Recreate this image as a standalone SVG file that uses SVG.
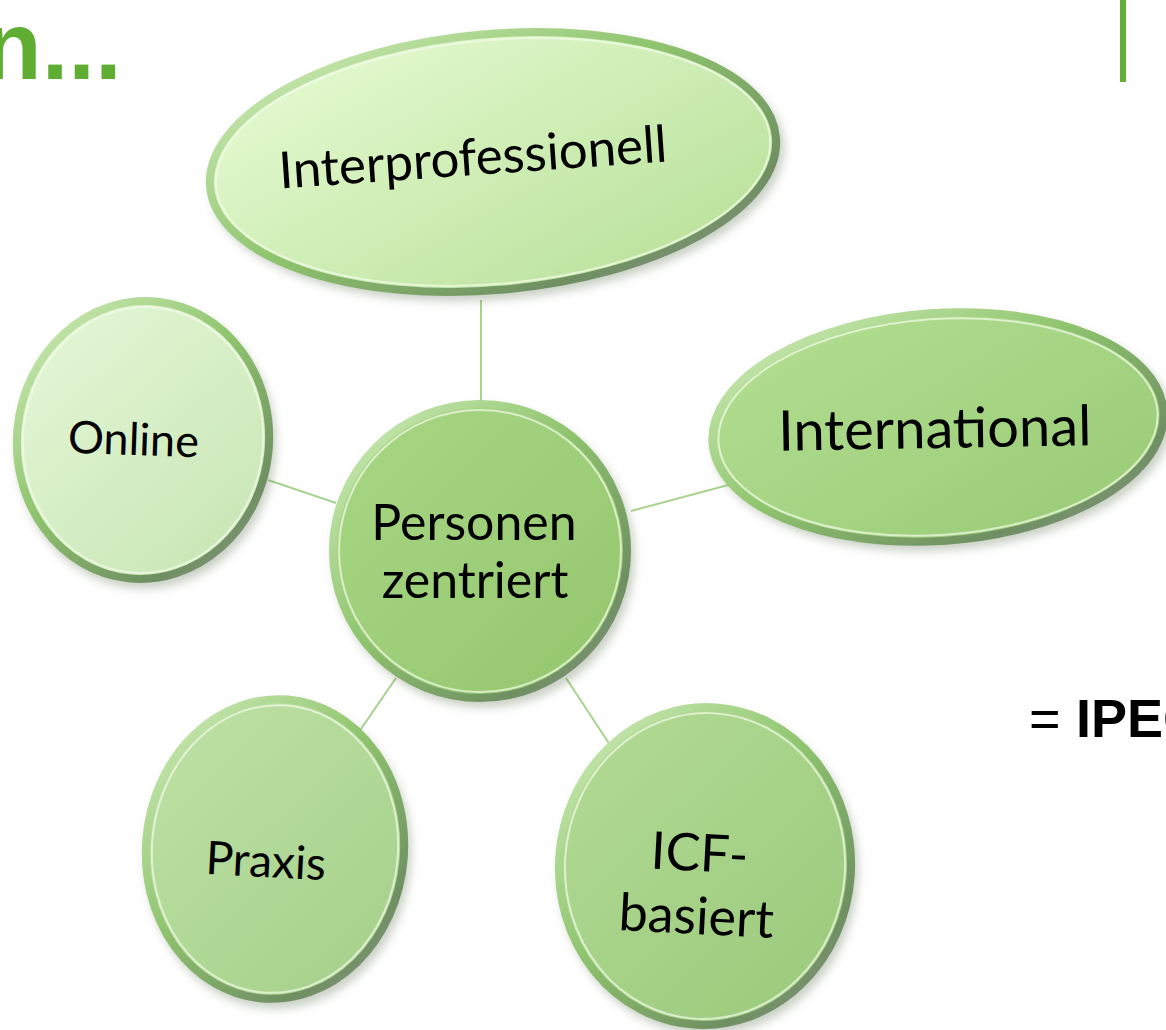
<svg xmlns="http://www.w3.org/2000/svg" width="1166" height="1030" viewBox="0 0 1166 1030">
<style>
.lbl{font-family:Lato,"Open Sans","Liberation Sans",sans-serif;fill:#000;text-anchor:middle}
.con{stroke:#a9d28e;stroke-width:2;fill:none}
.rim{fill:none;stroke:url(#rim);stroke-width:8}
.hl{fill:none;stroke:#f4fbe9;stroke-opacity:0.7;stroke-width:2}
.sh{fill:#556b4a;fill-opacity:0.3;filter:url(#blur)}
</style>
<defs>
<filter id="blur" x="-20%" y="-20%" width="140%" height="140%"><feGaussianBlur stdDeviation="4"/></filter>
<linearGradient id="rim" x1="0" y1="0" x2="1" y2="1">
<stop offset="0" stop-color="#d3efbd"/>
<stop offset="0.45" stop-color="#8fc46e"/>
<stop offset="0.8" stop-color="#6f8f62"/>
<stop offset="1" stop-color="#8a9486"/>
</linearGradient>
<linearGradient id="gTop" x1="0" y1="0" x2="1" y2="1"><stop offset="0" stop-color="#e9fcd6"/><stop offset="1" stop-color="#b5df95"/></linearGradient>
<linearGradient id="gOn" x1="0" y1="0" x2="1" y2="1"><stop offset="0" stop-color="#e6f8d9"/><stop offset="1" stop-color="#c6e4b1"/></linearGradient>
<linearGradient id="gPer" x1="0" y1="0" x2="1" y2="1"><stop offset="0" stop-color="#a9d785"/><stop offset="1" stop-color="#93c66d"/></linearGradient>
<linearGradient id="gInt" x1="0" y1="0" x2="1" y2="1"><stop offset="0" stop-color="#b3df92"/><stop offset="1" stop-color="#98ca75"/></linearGradient>
<linearGradient id="gPra" x1="0" y1="0" x2="1" y2="1"><stop offset="0" stop-color="#bfe2a6"/><stop offset="1" stop-color="#a3cf88"/></linearGradient>
<linearGradient id="gIcf" x1="0" y1="0" x2="1" y2="1"><stop offset="0" stop-color="#b3db96"/><stop offset="1" stop-color="#9ac97a"/></linearGradient>
</defs>
<rect width="1166" height="1030" fill="#ffffff"/>

<g id="title">
<text x="-17" y="79" font-family="'Liberation Sans',Arial,sans-serif" font-weight="bold" font-size="96" fill="#5fad32">n...</text>
<rect x="1120" y="0" width="6" height="82" fill="#62ae36"/>
</g>

<g id="connectors">
<line class="con" x1="481" y1="300" x2="481" y2="402"/>
<line class="con" x1="268" y1="480" x2="336" y2="503"/>
<line class="con" x1="631" y1="511" x2="732" y2="484"/>
<line class="con" x1="396" y1="678" x2="352" y2="742"/>
<line class="con" x1="566" y1="678" x2="616" y2="754"/>
</g>

<g id="node-interprofessionell">
<g transform="translate(493,162) rotate(-5)">
<ellipse class="sh" cx="4" cy="6" rx="288" ry="132"/>
<ellipse cx="0" cy="0" rx="286" ry="130" fill="url(#gTop)"/>
<ellipse class="rim" cx="0" cy="0" rx="284" ry="128"/>
<ellipse class="hl" cx="0" cy="0" rx="278" ry="122"/>
</g>
<text class="lbl" font-size="51" transform="translate(474,175) rotate(-4)">Interprofessionell</text>
</g>

<g id="node-online">
<g transform="translate(143,440) rotate(6)">
<ellipse class="sh" cx="4" cy="6" rx="130" ry="143"/>
<ellipse cx="0" cy="0" rx="128" ry="141" fill="url(#gOn)"/>
<ellipse class="rim" cx="0" cy="0" rx="126" ry="139"/>
<ellipse class="hl" cx="0" cy="0" rx="120" ry="133"/>
</g>
<text class="lbl" font-size="45" transform="translate(133,455) rotate(2)">Online</text>
</g>

<g id="node-personen">
<g transform="translate(480,551)">
<ellipse class="sh" cx="4" cy="6" rx="151" ry="151"/>
<ellipse cx="0" cy="0" rx="149" ry="149" fill="url(#gPer)"/>
<ellipse class="rim" cx="0" cy="0" rx="147" ry="147"/>
<ellipse class="hl" cx="0" cy="0" rx="141" ry="141"/>
</g>
<text class="lbl" font-size="50"><tspan x="474" y="540">Personen</tspan><tspan x="475" y="598">zentriert</tspan></text>
</g>

<g id="node-international">
<g transform="translate(938,427) rotate(-4)">
<ellipse class="sh" cx="4" cy="6" rx="230" ry="118"/>
<ellipse cx="0" cy="0" rx="228" ry="116" fill="url(#gInt)"/>
<ellipse class="rim" cx="0" cy="0" rx="226" ry="114"/>
<ellipse class="hl" cx="0" cy="0" rx="220" ry="108"/>
</g>
<text class="lbl" font-size="56" transform="translate(935,448) rotate(-1)">International</text>
</g>

<g id="node-praxis">
<g transform="translate(275,849) rotate(5)">
<ellipse class="sh" cx="4" cy="6" rx="133" ry="154"/>
<ellipse cx="0" cy="0" rx="131" ry="152" fill="url(#gPra)"/>
<ellipse class="rim" cx="0" cy="0" rx="129" ry="150"/>
<ellipse class="hl" cx="0" cy="0" rx="123" ry="144"/>
</g>
<text class="lbl" font-size="46" transform="translate(265,877) rotate(3)">Praxis</text>
</g>

<g id="node-icf">
<g transform="translate(705,866) rotate(4)">
<ellipse class="sh" cx="4" cy="6" rx="150" ry="163"/>
<ellipse cx="0" cy="0" rx="148" ry="161" fill="url(#gIcf)"/>
<ellipse class="rim" cx="0" cy="0" rx="146" ry="159"/>
<ellipse class="hl" cx="0" cy="0" rx="140" ry="153"/>
</g>
<g transform="translate(697,903) rotate(3)">
<text class="lbl" font-size="52"><tspan x="0" y="-32">ICF-</tspan><tspan x="0" y="31">basiert</tspan></text>
</g>
</g>

<g id="ipec">
<text x="1029" y="737" font-family="'Liberation Sans',Arial,sans-serif" font-size="54" fill="#000">=<tspan font-weight="bold" x="1076">IPEC</tspan></text>
</g>
</svg>
